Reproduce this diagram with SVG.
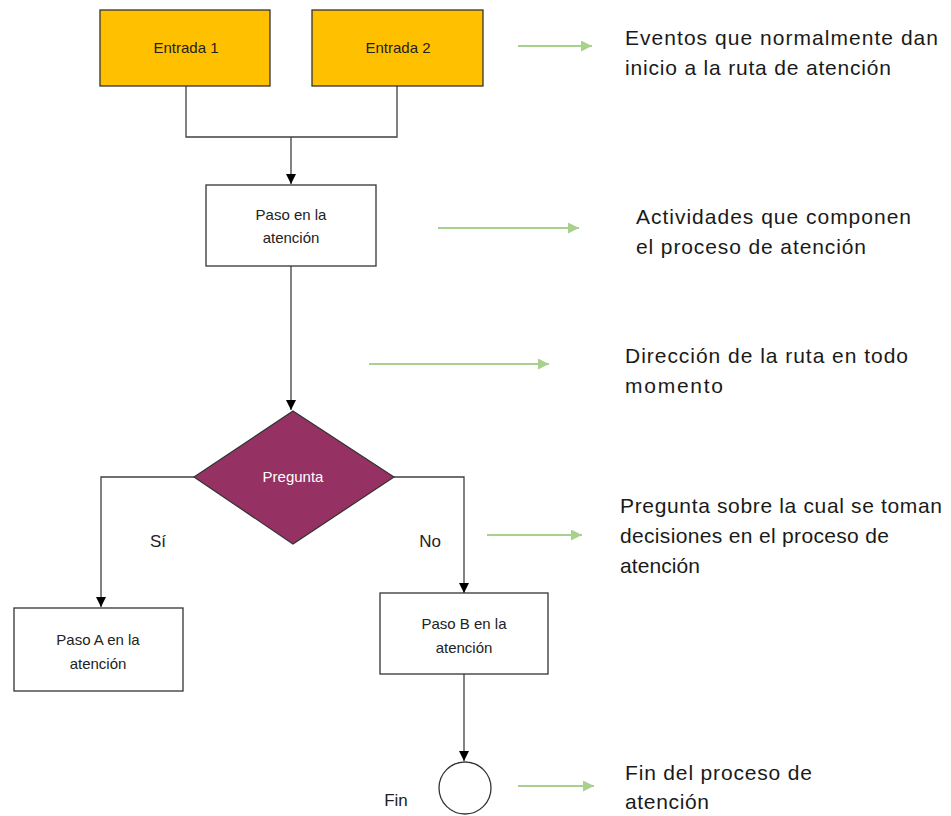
<svg xmlns="http://www.w3.org/2000/svg" width="951" height="816" viewBox="0 0 951 816">
<defs>
<marker id="ah" viewBox="0 0 10 10" refX="10" refY="5" markerWidth="10" markerHeight="10" markerUnits="userSpaceOnUse" orient="auto"><path d="M0,0 L10,5 L0,10 Z" fill="#000"/></marker>
<marker id="gh" viewBox="0 0 10 10" refX="10" refY="5" markerWidth="11" markerHeight="11" markerUnits="userSpaceOnUse" orient="auto"><path d="M0,0 L10,5 L0,10 Z" fill="#a9d18e"/></marker>
<style>
.box{fill:#fff;stroke:#333;stroke-width:1.3}
.in{fill:#ffc000;stroke:#333;stroke-width:1.3}
.nt{font-family:"Liberation Sans",Arial,sans-serif;font-size:15px;fill:#222;text-anchor:middle}
.lt{font-family:"Liberation Sans",Arial,sans-serif;font-size:21px;fill:#1a1a1a}
.ln{fill:none;stroke:#404040;stroke-width:1.3}
.gr{fill:none;stroke:#a9d18e;stroke-width:2}
</style>
</defs>
<rect width="951" height="816" fill="#fff"/>
<g id="connectors">
<path class="ln" d="M186,86 V137 H397 V86"/>
<path class="ln" d="M291,137 V184" marker-end="url(#ah)"/>
<path class="ln" d="M291,266 V410" marker-end="url(#ah)"/>
<path class="ln" d="M194,477 H101 V607" marker-end="url(#ah)"/>
<path class="ln" d="M394,477 H464 V593" marker-end="url(#ah)"/>
<path class="ln" d="M464,674 V761" marker-end="url(#ah)"/>
</g>
<g id="legend-arrows">
<line class="gr" x1="518" y1="46" x2="592" y2="46" marker-end="url(#gh)"/>
<line class="gr" x1="438" y1="228" x2="579" y2="228" marker-end="url(#gh)"/>
<line class="gr" x1="369" y1="364" x2="549" y2="364" marker-end="url(#gh)"/>
<line class="gr" x1="487" y1="535" x2="582" y2="535" marker-end="url(#gh)"/>
<line class="gr" x1="518" y1="786" x2="594" y2="786" marker-end="url(#gh)"/>
</g>
<g id="entrada1"><rect class="in" x="100" y="10" width="170" height="76"/><text class="nt" x="186" y="53">Entrada 1</text></g>
<g id="entrada2"><rect class="in" x="312" y="10" width="171" height="76"/><text class="nt" x="398" y="53">Entrada 2</text></g>
<g id="paso"><rect class="box" x="206" y="185" width="170" height="81"/><text class="nt" x="291" y="220">Paso en la</text><text class="nt" x="291" y="243">atención</text></g>
<g id="pregunta"><polygon points="293,411 394,477 293,544 194,477" fill="#953163" stroke="#333" stroke-width="1.2"/><text class="nt" x="293" y="482" style="fill:#fff">Pregunta</text></g>
<g id="pasoA"><rect class="box" x="14" y="608" width="169" height="83"/><text class="nt" x="98" y="645">Paso A en la</text><text class="nt" x="98" y="669">atención</text></g>
<g id="pasoB"><rect class="box" x="380" y="593" width="168" height="81"/><text class="nt" x="464" y="629">Paso B en la</text><text class="nt" x="464" y="653">atención</text></g>
<g id="fin"><circle cx="465" cy="788" r="26" fill="#fff" stroke="#333" stroke-width="1.3"/><text class="nt" x="396" y="806" style="font-size:17px">Fin</text></g>
<g id="labels">
<text class="nt" x="158" y="547" style="font-size:17px">Sí</text>
<text class="nt" x="430" y="547" style="font-size:17px">No</text>
</g>
<g id="legend-text">
<text class="lt" x="625" y="45" textLength="313" lengthAdjust="spacing">Eventos que normalmente dan</text>
<text class="lt" x="625" y="75" textLength="266" lengthAdjust="spacing">inicio a la ruta de atención</text>
<text class="lt" x="636" y="224" textLength="275" lengthAdjust="spacing">Actividades que componen</text>
<text class="lt" x="636" y="254" textLength="230" lengthAdjust="spacing">el proceso de atención</text>
<text class="lt" x="625" y="363" textLength="283" lengthAdjust="spacing">Dirección de la ruta en todo</text>
<text class="lt" x="625" y="393" textLength="98" lengthAdjust="spacing">momento</text>
<text class="lt" x="620" y="513" textLength="322" lengthAdjust="spacing">Pregunta sobre la cual se toman</text>
<text class="lt" x="620" y="543" textLength="269" lengthAdjust="spacing">decisiones en el proceso de</text>
<text class="lt" x="620" y="573" textLength="80" lengthAdjust="spacing">atención</text>
<text class="lt" x="625" y="780" textLength="187" lengthAdjust="spacing">Fin del proceso de</text>
<text class="lt" x="625" y="809" textLength="84" lengthAdjust="spacing">atención</text>
</g>
</svg>
